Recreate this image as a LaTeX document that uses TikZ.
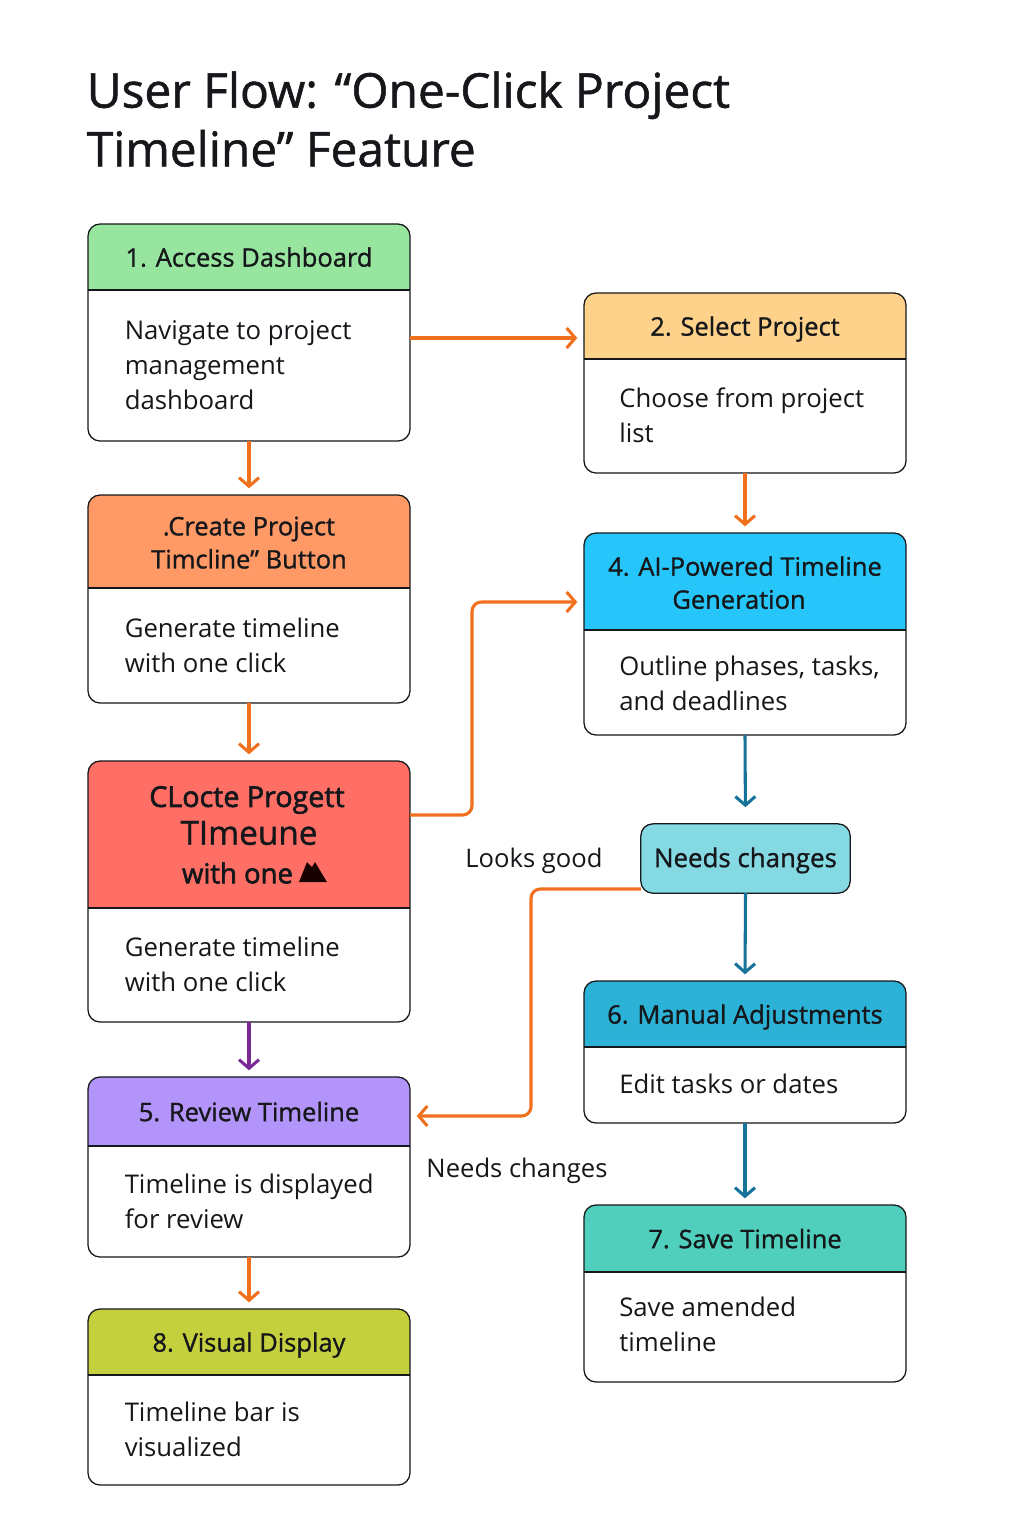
\documentclass[tikz,border=0pt]{standalone}
\usepackage{fontspec}
\setmainfont{Open Sans}
\newfontfamily\hdfont[FakeBold=1.1]{Open Sans}
\newfontfamily\redfont[FakeBold=2.2]{Open Sans}
\usetikzlibrary{arrows.meta}
\definecolor{cOrange}{HTML}{F0701E}
\definecolor{cBlue}{HTML}{17739A}
\definecolor{cPurple}{HTML}{7A2A96}
\definecolor{cGreen}{HTML}{98E5A0}
\definecolor{cYellow}{HTML}{FFD28C}
\definecolor{cPeach}{HTML}{FF9966}
\definecolor{cSky}{HTML}{26C6FA}
\definecolor{cRed}{HTML}{FF6F66}
\definecolor{cPale}{HTML}{85D9E3}
\definecolor{cTeal}{HTML}{2CB2D6}
\definecolor{cViolet}{HTML}{B394FA}
\definecolor{cMint}{HTML}{50D0BC}
\definecolor{cOlive}{HTML}{C5D03F}
\definecolor{cInk}{HTML}{15171A}
\tikzset{
  cardbox/.style={draw=cInk,line width=0.95pt,rounded corners=9pt,inner sep=0pt,outer sep=0pt,minimum width=241.5pt},
  headtext/.style={inner sep=0pt,align=center,text=cInk,font=\hdfont\fontsize{19.1}{24.8}\selectfont,execute at begin node=\strut,execute at end node=\strut},
  bodytext/.style={inner sep=0pt,align=left,anchor=west,text=cInk,font=\fontsize{19.3}{26.2}\selectfont,execute at begin node=\strut,execute at end node=\strut},
  plainlabel/.style={inner sep=0pt,text=cInk,font=\fontsize{19.2}{26.2}\selectfont},
  conn/.style={line width=2.3pt,-{Straight Barb[length=6.5pt,width=15pt,line width=2.3pt]},shorten >=5pt},
  orangeconn/.style={conn,draw=cOrange,rounded corners=7pt},
  blueconn/.style={conn,draw=cBlue},
  purpleconn/.style={conn,draw=cPurple},
}
\def\bodytweak{4.5}
\def\bodyx{36.5}
\def\headtweak{3}
\newcommand{\flowcard}[8]{%
  \begin{scope}
    \clip[rounded corners=9pt] (#2,#3) rectangle (#2+322,#5);
    \fill[#6] (#2,#3) rectangle (#2+322,#4);
  \end{scope}
  \node[cardbox,minimum height={(#5-#3)*0.75pt}] (#1) at (#2+161,{(#3+#5)/2}) {};
  \draw[cInk,line width=0.95pt] (#2,#4) -- (#2+322,#4);
  \node[headtext] (#1h) at (#2+161,{(#3+#4)/2+\headtweak}) {#7};
  \node[bodytext] (#1b) at (#2+\bodyx,{(#4+#5)/2+\bodytweak}) {#8};
}
\begin{document}
\begin{tikzpicture}[x=0.75pt,y=-0.75pt]
\useasboundingbox[fill=white] (0,0) rectangle (1024,1536);
\node[anchor=north west,inner sep=0pt,align=left,text=cInk,font=\hdfont\fontsize{35.9}{44}\selectfont] (title) at (86.5,71) {User Flow: “One-Click Project\\Timeline” Feature};

\flowcard{c1}{88}{224}{290}{441}{cGreen}{1. Access Dashboard}{Navigate to project\\management\\dashboard}
\def\headtweak{6}
\flowcard{c3}{88}{495}{588}{703}{cPeach}{.Create Project\\Timcline” Button}{Generate timeline\\with one click}
\def\headtweak{3}
\flowcard{cr}{88}{761}{908}{1022}{cRed}{}{Generate timeline\\with one click}
\flowcard{c5}{88}{1077}{1146}{1257}{cViolet}{5. Review Timeline}{Timeline is displayed\\for review}
\flowcard{c8}{88}{1309}{1375}{1485}{cOlive}{8. Visual Display}{Timeline bar is\\visualized}
\def\bodyx{35}
\flowcard{c2}{584}{293}{359}{473}{cYellow}{2. Select Project}{Choose from project\\list}
\def\headtweak{6}
\def\bodytweak{5.5}
\flowcard{c4}{584}{533}{630}{735}{cSky}{4. AI-Powered Timeline\\\hspace*{-9pt}Generation}{Outline phases, tasks,\\and deadlines}
\def\headtweak{3}
\def\bodytweak{1}
\flowcard{c6}{584}{981}{1047}{1123}{cTeal}{6. Manual Adjustments}{Edit tasks or dates}
\def\bodytweak{2}
\flowcard{c7}{584}{1205}{1272}{1382}{cMint}{7. Save Timeline}{Save amended\\timeline}

\node[inner sep=0pt,text=cInk,font=\redfont\fontsize{21.5}{26}\selectfont] (rl1) at (247,800) {CLocte Progett};
\node[inner sep=0pt,text=cInk,font=\hdfont\fontsize{25}{28}\selectfont] (rl2) at (249,833) {TImeune};
\node[inner sep=0pt,text=cInk,font=\redfont\fontsize{20.6}{26}\selectfont] (rl3) at (237.5,873) {with one};
\fill[black!90!red] (299,882) -- (307,862) -- (312,867) -- (315,862) -- (327,882) -- cycle;

\node[draw=cInk,line width=0.95pt,fill=cPale,rounded corners=9pt,inner sep=0pt,outer sep=0pt,minimum width=157pt,minimum height=52pt,text=cInk,font=\hdfont\fontsize{19.4}{24.8}\selectfont,execute at begin node=\strut] (nc) at (745.5,858.5) {\raisebox{-1.5pt}{Needs changes}};

\node[plainlabel] (lg) at (534,861) {Looks good};
\node[plainlabel] (ncl) at (517,1170.5) {Needs changes};

\coordinate (y338) at (0,338);
\coordinate (y602) at (0,602);
\coordinate (y815) at (0,815);
\coordinate (y889) at (0,889);
\coordinate (y1116) at (0,1116);
\coordinate (x472) at (472,0);
\coordinate (x531) at (531,0);

\draw[orangeconn] (c1.east |- y338) -- (c2.west |- y338);
\draw[orangeconn] (c1.south) -- (c3.north);
\draw[orangeconn] (c3.south) -- (cr.north);
\draw[orangeconn] (c2.south) -- (c4.north -| c2.south);
\draw[orangeconn] (cr.east |- y815) -- (x472 |- y815) -- (x472 |- y602) -- (c4.west |- y602);
\draw[blueconn,shorten >=12.5pt] (c4.south) -- (nc.north);
\draw[blueconn] (nc.south) -- (c6.north);
\draw[blueconn] (c6.south) -- (c7.north);
\draw[orangeconn] (nc.west |- y889) -- (x531 |- y889) -- (x531 |- y1116) -- (c5.east |- y1116);
\draw[purpleconn] (cr.south) -- (c5.north);
\draw[orangeconn] (c5.south) -- (c8.north);
\end{tikzpicture}
\end{document}
